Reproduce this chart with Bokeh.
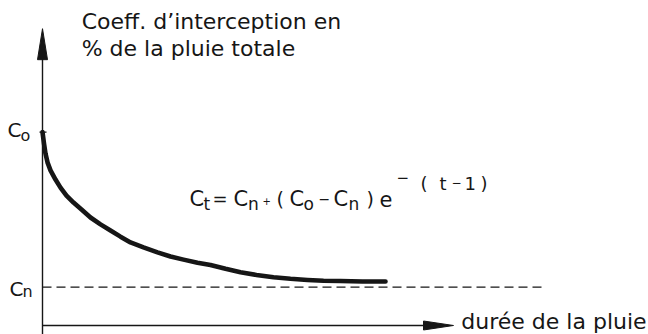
from bokeh.plotting import figure
from bokeh.models import Range1d
from bokeh.core.properties import value
from bokeh.embed import file_html
from bokeh.resources import INLINE

# ---- data ----
# rain duration t (arbitrary units) and interception coefficient C (% of total rain)
t_curve = [0, 0.0375, 0.075, 0.125, 0.2, 0.325, 0.45, 0.6, 0.775, 0.975, 1.2, 1.45, 1.7, 1.95,
           2.2, 2.525, 2.875, 3.2, 3.525, 3.875, 4.2, 4.575, 4.95, 5.35, 5.775, 6.2, 6.625,
           7.025, 7.45, 8.0, 8.575]
c_curve = [50.5, 47.5, 44.9, 42.6, 40.5, 38.1, 36.0, 33.9, 32.1, 30.3, 28.2, 26.4, 24.8, 23.2,
           21.7, 20.4, 19.1, 18.0, 17.2, 16.4, 15.8, 14.8, 13.9, 13.2, 12.6, 12.2, 11.9,
           11.7, 11.6, 11.5, 11.5]
C0 = 50.5    # initial coefficient
Cn = 10      # final coefficient (asymptote)
t_dash_end = 12.5
t_axis_end = 10.275
c_axis_end = 77.5

y_title = ["Coeff. d\u2019interception en", "% de la pluie totale"]
x_title = "durée de la pluie"

INK = "#161616"
FONT = value("DejaVu Sans")

p = figure(width=648, height=334, x_range=Range1d(-1.05, 15.15), y_range=Range1d(-2.35, 84.86),
           x_axis_type=None, y_axis_type=None, output_backend="svg", toolbar_location=None,
           min_border=0, min_border_left=0, min_border_right=0, min_border_top=0, min_border_bottom=0)
p.grid.visible = False
p.outline_line_color = None
p.background_fill_color = "white"
p.border_fill_color = "white"

# pixel -> data helpers for sizes (40 px per t unit, 3.83 px per C unit)
PX_T = 1 / 40.0
PX_C = 1 / 3.83
TXT_DY = 7 * PX_C   # compensates the renderer's baseline placement

# axes
p.line([0, 0], [-2.35, c_axis_end - 20 * PX_C], line_color=INK, line_width=1.4)
p.line([0, t_axis_end - 20 * PX_T], [0, 0], line_color=INK, line_width=1.4)
# arrow heads
p.patch([0, -5 * PX_T, 5 * PX_T], [c_axis_end, c_axis_end - 31 * PX_C, c_axis_end - 31 * PX_C],
        fill_color=INK, line_color=INK, line_width=1)
p.patch([t_axis_end, t_axis_end - 30 * PX_T, t_axis_end - 30 * PX_T],
        [0, 4.5 * PX_C, -4.5 * PX_C], fill_color=INK, line_color=INK, line_width=1)

# C0 tick
p.line([-3 * PX_T, 4 * PX_T], [C0, C0], line_color=INK, line_width=1.4)

# dashed asymptote
p.line([0, t_dash_end], [Cn, Cn], line_color=INK, line_width=1.3, line_dash="9 5")

# curve
p.line(t_curve, c_curve, line_color=INK, line_width=4.6, line_join="round", line_cap="round")

def txt(x, y, s, size, align="left"):
    p.text(x=[x], y=[y + TXT_DY], text=[s], text_font=FONT, text_font_size=f"{size}px",
           text_color=INK, text_align=align, text_baseline="alphabetic")

# axis titles
txt(0.98, 77.55, y_title[0], 22)
txt(0.98, 70.5, y_title[1], 22)
txt(10.47, -0.78, x_title, 22)

# C0 / Cn labels
txt(-0.875, 49.1, "C", 20)
txt(-0.55, 47.8, "o", 16)
txt(-0.825, 7.83, "C", 20)
txt(-0.5, 7.05, "n", 16)

# formula  C_t = C_n + (C_o - C_n) e^{-(t-1)}
yb, ys, yp = 31.33, 29.77, 35.25
txt(3.675, yb, "C", 21)
txt(4.025, ys, "t", 17)
txt(4.25, yb, "=", 18)
txt(4.775, yb, "C", 21)
txt(5.14, ys, "n", 17)
txt(5.5, 30.81, "+", 10)
txt(5.85, yb, "(", 19)
txt(6.175, yb, "C", 21)
txt(6.525, ys, "o", 17)
txt(6.9, yb, "\u2212", 14)
txt(7.275, yb, "C", 21)
txt(7.65, ys, "n", 17)
txt(8.1, yb, ")", 19)
txt(8.425, yb, "e", 21)
txt(8.85, 36.83, "\u2212", 15)
txt(9.45, yp, "(", 18)
txt(9.925, yp, "t", 18)
txt(10.225, yp + 0.2, "\u2212", 12)
txt(10.55, yp, "1", 18)
txt(10.95, yp, ")", 18)

open("out.html", "w").write(file_html(p, INLINE))
